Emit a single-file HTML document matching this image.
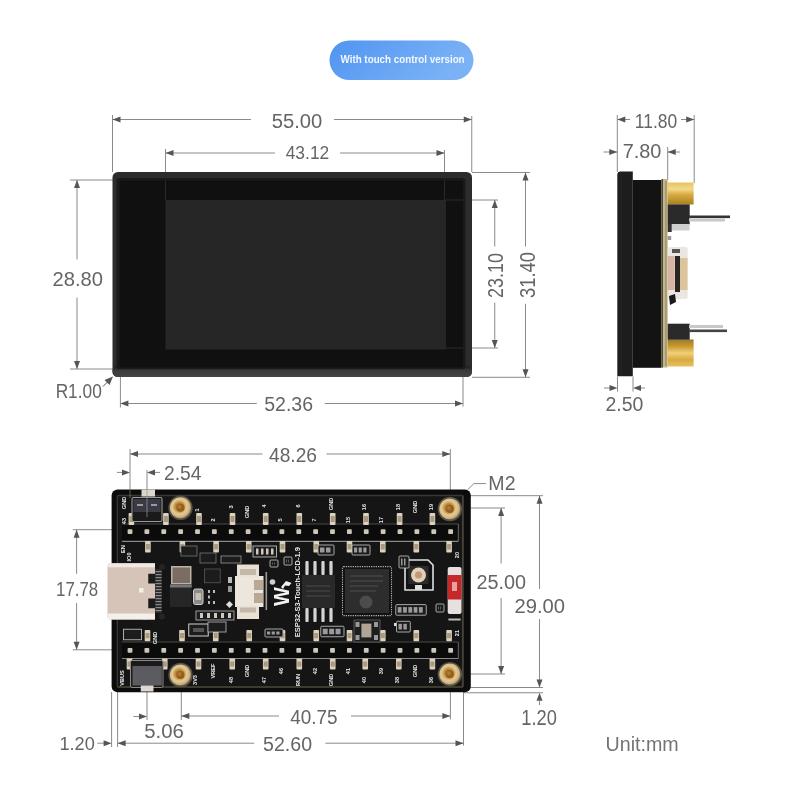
<!DOCTYPE html>
<html><head><meta charset="utf-8"><style>
html,body{margin:0;padding:0;background:#fff;}
svg{display:block;filter:blur(0.4px);}
text{font-family:"Liberation Sans",sans-serif;}
</style></head><body>
<svg width="800" height="800" viewBox="0 0 800 800" font-family="Liberation Sans, sans-serif">
<defs><linearGradient id="pill" x1="0" y1="0" x2="1" y2="0.3"><stop offset="0" stop-color="#5094f1"/><stop offset="1" stop-color="#7bb2f6"/></linearGradient><linearGradient id="gold" x1="0" y1="0" x2="0" y2="1"><stop offset="0" stop-color="#e8c060"/><stop offset="0.3" stop-color="#f4da88"/><stop offset="0.55" stop-color="#d8aa40"/><stop offset="1" stop-color="#a88020"/></linearGradient><radialGradient id="hole" cx="0.45" cy="0.45" r="0.58"><stop offset="0" stop-color="#7a4a14"/><stop offset="0.32" stop-color="#b8843c"/><stop offset="0.6" stop-color="#e6cc94"/><stop offset="0.85" stop-color="#cdb07a"/><stop offset="1" stop-color="#7a6c50"/></radialGradient><linearGradient id="fbot" x1="0" y1="0" x2="0" y2="1"><stop offset="0" stop-color="#1c1c1c"/><stop offset="0.45" stop-color="#3c3c3c"/><stop offset="1" stop-color="#444444"/></linearGradient><linearGradient id="gold2" x1="0" y1="0" x2="0" y2="1"><stop offset="0" stop-color="#9a7a28"/><stop offset="0.25" stop-color="#c89a30"/><stop offset="0.5" stop-color="#f0d078"/><stop offset="0.75" stop-color="#d8aa40"/><stop offset="1" stop-color="#e8c060"/></linearGradient></defs>
<rect width="800" height="800" fill="#ffffff"/>
<rect x="329.5" y="40.5" width="144" height="39.5" rx="19.75" fill="url(#pill)"/>
<text x="0" y="0" font-size="12" font-weight="bold" fill="#f4f8ff" transform="translate(340.50,63.20) scale(0.8179,0.9667)">With touch control version</text>
<line x1="112.5" y1="115" x2="112.5" y2="172" stroke="#8a8a8a" stroke-width="1"/>
<line x1="471.75" y1="116" x2="471.75" y2="172" stroke="#8a8a8a" stroke-width="1"/>
<line x1="165.5" y1="149" x2="165.5" y2="200" stroke="#8a8a8a" stroke-width="1"/>
<line x1="444.5" y1="150" x2="444.5" y2="200" stroke="#8a8a8a" stroke-width="1"/>
<line x1="112.5" y1="119.5" x2="251" y2="119.5" stroke="#8a8a8a" stroke-width="1"/>
<line x1="334" y1="119.5" x2="471.75" y2="119.5" stroke="#8a8a8a" stroke-width="1"/>
<polygon points="112.50,119.50 120.50,116.50 120.50,122.50" fill="#555555"/>
<polygon points="471.75,119.50 463.75,116.50 463.75,122.50" fill="#555555"/>
<text x="0" y="0" font-size="20" fill="#656565" transform="translate(271.69,127.70) scale(1.0102,1.0357)">55.00</text>
<line x1="165.5" y1="153" x2="275" y2="153" stroke="#8a8a8a" stroke-width="1"/>
<line x1="340" y1="153" x2="444.5" y2="153" stroke="#8a8a8a" stroke-width="1"/>
<polygon points="165.50,153.00 173.50,150.00 173.50,156.00" fill="#555555"/>
<polygon points="444.50,153.00 436.50,150.00 436.50,156.00" fill="#555555"/>
<text x="0" y="0" font-size="20" fill="#656565" transform="translate(285.70,158.50) scale(0.8700,0.9643)">43.12</text>
<line x1="70" y1="180" x2="113" y2="180" stroke="#8a8a8a" stroke-width="1"/>
<line x1="70" y1="369" x2="113" y2="369" stroke="#8a8a8a" stroke-width="1"/>
<line x1="77" y1="180" x2="77" y2="259.4" stroke="#8a8a8a" stroke-width="1"/>
<line x1="77" y1="297.5" x2="77" y2="369" stroke="#8a8a8a" stroke-width="1"/>
<polygon points="77.00,180.00 74.00,188.00 80.00,188.00" fill="#555555"/>
<polygon points="77.00,369.00 74.00,361.00 80.00,361.00" fill="#555555"/>
<text x="0" y="0" font-size="20" fill="#656565" transform="translate(52.49,285.50) scale(1.0102,1.0071)">28.80</text>
<rect x="112.5" y="172" width="359.5" height="205" rx="5.5" fill="#2c2c2c"/>
<rect x="112.5" y="366" width="359.5" height="11" rx="5" fill="url(#fbot)"/>
<rect x="116.5" y="178" width="349" height="191" rx="3" fill="#1a1a1a"/>
<rect x="119.5" y="180.5" width="343.5" height="187" rx="2" fill="#101010"/>
<rect x="165.5" y="200" width="280.5" height="149.5" fill="#262626"/>
<line x1="165.5" y1="180.5" x2="165.5" y2="200" stroke="#2a2a2a" stroke-width="1"/>
<line x1="444.5" y1="180.5" x2="444.5" y2="200" stroke="#2a2a2a" stroke-width="1"/>
<line x1="446" y1="200" x2="463" y2="200" stroke="#2a2a2a" stroke-width="1"/>
<line x1="446" y1="348" x2="463" y2="348" stroke="#2a2a2a" stroke-width="1"/>
<text x="0" y="0" font-size="20" fill="#656565" transform="translate(55.63,398.00) scale(0.8654,0.9643)">R1.00</text>
<line x1="103" y1="386.5" x2="110" y2="379.5" stroke="#555555" stroke-width="1"/>
<polygon points="113,376.5 104.5,380 109.5,385" fill="#555555"/>
<line x1="120.4" y1="377" x2="120.4" y2="407.5" stroke="#8a8a8a" stroke-width="1"/>
<line x1="463" y1="377" x2="463" y2="406.5" stroke="#8a8a8a" stroke-width="1"/>
<line x1="120.4" y1="403.5" x2="256.8" y2="403.5" stroke="#8a8a8a" stroke-width="1"/>
<line x1="324.7" y1="403.5" x2="463" y2="403.5" stroke="#8a8a8a" stroke-width="1"/>
<polygon points="120.40,403.50 128.40,400.50 128.40,406.50" fill="#555555"/>
<polygon points="463.00,403.50 455.00,400.50 455.00,406.50" fill="#555555"/>
<text x="0" y="0" font-size="20" fill="#656565" transform="translate(264.22,411.00) scale(0.9755,1.0143)">52.36</text>
<line x1="472" y1="200" x2="498" y2="200" stroke="#8a8a8a" stroke-width="1"/>
<line x1="472" y1="348" x2="498" y2="348" stroke="#8a8a8a" stroke-width="1"/>
<line x1="494.75" y1="200" x2="494.75" y2="246.4" stroke="#8a8a8a" stroke-width="1"/>
<line x1="494.75" y1="302.6" x2="494.75" y2="348" stroke="#8a8a8a" stroke-width="1"/>
<polygon points="494.75,200.00 491.75,208.00 497.75,208.00" fill="#555555"/>
<polygon points="494.75,348.00 491.75,340.00 497.75,340.00" fill="#555555"/>
<text x="0" y="0" font-size="20" fill="#656565" transform="translate(503.30,297.90) rotate(-90) scale(0.8980,1.0929)">23.10</text>
<line x1="472" y1="172.5" x2="530" y2="172.5" stroke="#8a8a8a" stroke-width="1"/>
<line x1="472" y1="377.3" x2="530" y2="377.3" stroke="#8a8a8a" stroke-width="1"/>
<line x1="525.5" y1="172.5" x2="525.5" y2="246.4" stroke="#8a8a8a" stroke-width="1"/>
<line x1="525.5" y1="303.8" x2="525.5" y2="377.3" stroke="#8a8a8a" stroke-width="1"/>
<polygon points="525.50,172.50 522.50,180.50 528.50,180.50" fill="#555555"/>
<polygon points="525.50,377.30 522.50,369.30 528.50,369.30" fill="#555555"/>
<text x="0" y="0" font-size="20" fill="#656565" transform="translate(535.30,297.92) rotate(-90) scale(0.9184,1.1286)">31.40</text>
<line x1="617.3" y1="115" x2="617.3" y2="172" stroke="#8a8a8a" stroke-width="1"/>
<line x1="694.2" y1="115" x2="694.2" y2="183" stroke="#8a8a8a" stroke-width="1"/>
<line x1="667.7" y1="147" x2="667.7" y2="180" stroke="#8a8a8a" stroke-width="1"/>
<line x1="617.3" y1="119.5" x2="630" y2="119.5" stroke="#8a8a8a" stroke-width="1"/>
<line x1="681" y1="119.5" x2="694.2" y2="119.5" stroke="#8a8a8a" stroke-width="1"/>
<polygon points="617.30,119.50 625.30,116.50 625.30,122.50" fill="#555555"/>
<polygon points="694.20,119.50 686.20,116.50 686.20,122.50" fill="#555555"/>
<text x="0" y="0" font-size="20" fill="#656565" transform="translate(634.83,127.70) scale(0.8723,1.0143)">11.80</text>
<line x1="603.5" y1="152" x2="617.3" y2="152" stroke="#8a8a8a" stroke-width="1"/>
<line x1="667.7" y1="152" x2="680" y2="152" stroke="#8a8a8a" stroke-width="1"/>
<polygon points="617.30,152.00 609.30,149.00 609.30,155.00" fill="#555555"/>
<polygon points="667.70,152.00 675.70,149.00 675.70,155.00" fill="#555555"/>
<text x="0" y="0" font-size="20" fill="#656565" transform="translate(622.71,157.70) scale(0.9946,0.9643)">7.80</text>
<path d="M617.3,175 Q617.3,171.6 620.5,171.6 L632.8,171.6 L632.8,376.2 L617.3,376.2 Z" fill="#1d1d1d"/>
<rect x="620.5" y="173" width="1.2" height="202" fill="#262626"/>
<rect x="632.8" y="180" width="28.8" height="187.8" fill="#131313"/>
<rect x="661.6" y="179" width="6.1" height="188.5" fill="#c2b68e"/>
<rect x="661.6" y="179" width="1.2" height="188.5" fill="#3a3424"/>
<rect x="665.2" y="181" width="1.5" height="185" fill="#8a7c58" opacity="0.6"/>
<rect x="667.7" y="182.5" width="25.9" height="22" fill="url(#gold)"/>
<rect x="667.7" y="339.5" width="25.9" height="27" fill="url(#gold2)"/>
<rect x="667.7" y="204.4" width="22" height="20" fill="#2a2a2a"/>
<rect x="667.7" y="323.7" width="22" height="16" fill="#2a2a2a"/>
<rect x="689" y="215.5" width="41" height="2.6" fill="#333"/>
<rect x="689" y="218.5" width="36" height="3" fill="#c8c8c8"/>
<rect x="689" y="329.5" width="38" height="2.6" fill="#444"/>
<rect x="689" y="325" width="34" height="3" fill="#c8c8c8"/>
<rect x="671.5" y="224" width="18" height="6.5" fill="#cfcfcf"/>
<rect x="667.7" y="224" width="4" height="8" fill="#333"/>
<rect x="667.7" y="236" width="3.5" height="4" fill="#999"/>
<rect x="667.7" y="247" width="20" height="52" rx="2" fill="#ece6e0"/>
<rect x="667.7" y="256" width="7" height="34" fill="#d8b4a4"/>
<rect x="675" y="256" width="5" height="36" fill="#2a2520"/>
<rect x="680" y="258" width="7.5" height="32" fill="#dcc49a"/>
<rect x="672" y="249" width="8" height="4" fill="#555"/>
<path d="M669,296 L675,294 L676,302 L670,305 Z" fill="#1a1a1a"/>
<line x1="617.5" y1="376.5" x2="617.5" y2="391.5" stroke="#8a8a8a" stroke-width="1"/>
<line x1="633" y1="376.5" x2="633" y2="391.5" stroke="#8a8a8a" stroke-width="1"/>
<line x1="604" y1="388" x2="611" y2="388" stroke="#8a8a8a" stroke-width="1"/>
<line x1="640" y1="388" x2="645" y2="388" stroke="#8a8a8a" stroke-width="1"/>
<polygon points="617.50,388.00 609.50,385.00 609.50,391.00" fill="#555555"/>
<polygon points="633.00,388.00 641.00,385.00 641.00,391.00" fill="#555555"/>
<text x="0" y="0" font-size="20" fill="#656565" transform="translate(605.53,411.00) scale(0.9730,1.0357)">2.50</text>
<line x1="130" y1="449" x2="130" y2="490" stroke="#8a8a8a" stroke-width="1"/>
<line x1="450.3" y1="449" x2="450.3" y2="490" stroke="#8a8a8a" stroke-width="1"/>
<line x1="130" y1="454" x2="262.5" y2="454" stroke="#8a8a8a" stroke-width="1"/>
<line x1="326.5" y1="454" x2="450.3" y2="454" stroke="#8a8a8a" stroke-width="1"/>
<polygon points="130.00,454.00 138.00,451.00 138.00,457.00" fill="#555555"/>
<polygon points="450.30,454.00 442.30,451.00 442.30,457.00" fill="#555555"/>
<text x="0" y="0" font-size="20" fill="#656565" transform="translate(269.00,461.50) scale(0.9600,1.0357)">48.26</text>
<line x1="147" y1="470" x2="147" y2="497" stroke="#8a8a8a" stroke-width="1"/>
<line x1="117" y1="472.4" x2="123" y2="472.4" stroke="#8a8a8a" stroke-width="1"/>
<polygon points="130.00,472.40 122.00,469.40 122.00,475.40" fill="#555555"/>
<line x1="152" y1="472.4" x2="160" y2="472.4" stroke="#8a8a8a" stroke-width="1"/>
<polygon points="147.00,472.40 155.00,469.40 155.00,475.40" fill="#555555"/>
<text x="0" y="0" font-size="20" fill="#656565" transform="translate(164.04,480.00) scale(0.9632,1.0000)">2.54</text>
<polyline points="467.4,490 473.9,483.6 486,483.6" fill="none" stroke="#8a8a8a" stroke-width="1"/>
<text x="0" y="0" font-size="20" fill="#656565" transform="translate(488.32,490.00) scale(0.9808,0.9857)">M2</text>
<line x1="470" y1="495.7" x2="543" y2="495.7" stroke="#8a8a8a" stroke-width="1"/>
<line x1="470" y1="687.5" x2="543" y2="687.5" stroke="#8a8a8a" stroke-width="1"/>
<line x1="539.5" y1="495.7" x2="539.5" y2="589" stroke="#8a8a8a" stroke-width="1"/>
<line x1="539.5" y1="619" x2="539.5" y2="687.5" stroke="#8a8a8a" stroke-width="1"/>
<polygon points="539.50,495.70 536.50,503.70 542.50,503.70" fill="#555555"/>
<polygon points="539.50,687.50 536.50,679.50 542.50,679.50" fill="#555555"/>
<text x="0" y="0" font-size="20" fill="#656565" transform="translate(514.49,613.00) scale(1.0102,0.9643)">29.00</text>
<line x1="462" y1="508" x2="505" y2="508" stroke="#8a8a8a" stroke-width="1"/>
<line x1="462" y1="674" x2="505" y2="674" stroke="#8a8a8a" stroke-width="1"/>
<line x1="501.1" y1="508" x2="501.1" y2="563.5" stroke="#8a8a8a" stroke-width="1"/>
<line x1="501.1" y1="598" x2="501.1" y2="674" stroke="#8a8a8a" stroke-width="1"/>
<polygon points="501.10,508.00 498.10,516.00 504.10,516.00" fill="#555555"/>
<polygon points="501.10,674.00 498.10,666.00 504.10,666.00" fill="#555555"/>
<text x="0" y="0" font-size="20" fill="#656565" transform="translate(476.41,589.00) scale(0.9918,0.9643)">25.00</text>
<line x1="464" y1="692.75" x2="543" y2="692.75" stroke="#8a8a8a" stroke-width="1"/>
<polygon points="539.50,692.75 536.50,700.75 542.50,700.75" fill="#555555"/>
<line x1="539.5" y1="700" x2="539.5" y2="705" stroke="#8a8a8a" stroke-width="1"/>
<text x="0" y="0" font-size="20" fill="#656565" transform="translate(521.29,725.00) scale(0.9135,1.0714)">1.20</text>
<line x1="72.8" y1="529.7" x2="112" y2="529.7" stroke="#8a8a8a" stroke-width="1"/>
<line x1="72.8" y1="649.8" x2="112" y2="649.8" stroke="#8a8a8a" stroke-width="1"/>
<line x1="76.6" y1="529.7" x2="76.6" y2="573.8" stroke="#8a8a8a" stroke-width="1"/>
<line x1="76.6" y1="602.9" x2="76.6" y2="649.8" stroke="#8a8a8a" stroke-width="1"/>
<polygon points="76.60,529.70 73.60,537.70 79.60,537.70" fill="#555555"/>
<polygon points="76.60,649.80 73.60,641.80 79.60,641.80" fill="#555555"/>
<text x="0" y="0" font-size="20" fill="#656565" transform="translate(56.06,596.30) scale(0.8429,1.0071)">17.78</text>
<line x1="147" y1="692" x2="147" y2="720" stroke="#8a8a8a" stroke-width="1"/>
<line x1="181.3" y1="686" x2="181.3" y2="720" stroke="#8a8a8a" stroke-width="1"/>
<line x1="450.4" y1="692" x2="450.4" y2="719.4" stroke="#8a8a8a" stroke-width="1"/>
<line x1="133.4" y1="716.5" x2="140" y2="716.5" stroke="#8a8a8a" stroke-width="1"/>
<polygon points="147.00,716.50 139.00,713.50 139.00,719.50" fill="#555555"/>
<text x="0" y="0" font-size="20" fill="#656565" transform="translate(144.28,738.00) scale(1.0162,1.0000)">5.06</text>
<line x1="181.3" y1="716" x2="279" y2="716" stroke="#8a8a8a" stroke-width="1"/>
<line x1="351" y1="716" x2="450.4" y2="716" stroke="#8a8a8a" stroke-width="1"/>
<polygon points="181.30,716.00 189.30,713.00 189.30,719.00" fill="#555555"/>
<polygon points="450.40,716.00 442.40,713.00 442.40,719.00" fill="#555555"/>
<text x="0" y="0" font-size="20" fill="#656565" transform="translate(290.20,724.00) scale(0.9460,1.0179)">40.75</text>
<line x1="111.6" y1="692" x2="111.6" y2="747" stroke="#8a8a8a" stroke-width="1"/>
<line x1="117.6" y1="692" x2="117.6" y2="747" stroke="#8a8a8a" stroke-width="1"/>
<line x1="463.5" y1="692" x2="463.5" y2="745.6" stroke="#8a8a8a" stroke-width="1"/>
<line x1="97.4" y1="743.2" x2="104" y2="743.2" stroke="#8a8a8a" stroke-width="1"/>
<polygon points="111.60,743.20 103.60,740.20 103.60,746.20" fill="#555555"/>
<line x1="117.6" y1="743.2" x2="254.25" y2="743.2" stroke="#8a8a8a" stroke-width="1"/>
<line x1="325.5" y1="743.2" x2="463.5" y2="743.2" stroke="#8a8a8a" stroke-width="1"/>
<polygon points="117.60,743.20 125.60,740.20 125.60,746.20" fill="#555555"/>
<polygon points="463.50,743.20 455.50,740.20 455.50,746.20" fill="#555555"/>
<text x="0" y="0" font-size="20" fill="#656565" transform="translate(263.02,751.00) scale(0.9796,1.0179)">52.60</text>
<text x="0" y="0" font-size="20" fill="#656565" transform="translate(59.39,750.30) scale(0.9108,0.9643)">1.20</text>
<text x="0" y="0" font-size="20" fill="#747474" transform="translate(605.52,751.00) scale(0.9833,1.0133)">Unit:mm</text>
<rect x="111.6" y="489.6" width="359.2" height="202.6" rx="6" fill="#0c0c0c"/>
<rect x="117.3" y="495.5" width="345.5" height="191.5" rx="1.5" fill="#151515" stroke="#3a3832" stroke-width="1.3"/>
<line x1="117.3" y1="687" x2="462.8" y2="687" stroke="#45402f" stroke-width="1.4"/>
<line x1="462.8" y1="495.5" x2="462.8" y2="687" stroke="#45423a" stroke-width="1.8"/>
<rect x="122" y="524" width="336.3" height="17.299999999999955" fill="#0b0b0b"/>
<line x1="122" y1="524" x2="458.3" y2="524" stroke="#4a4a4a" stroke-width="1"/>
<line x1="122" y1="541.3" x2="458.3" y2="541.3" stroke="#8a8a8a" stroke-width="1.2"/>
<line x1="458.3" y1="524" x2="458.3" y2="541.3" stroke="#6a6a6a" stroke-width="1"/>
<rect x="127.60" y="529.2" width="4.8" height="4.8" rx="0.8" fill="#cdc6ba"/>
<rect x="144.47" y="529.2" width="4.8" height="4.8" rx="0.8" fill="#cdc6ba"/>
<rect x="161.35" y="529.2" width="4.8" height="4.8" rx="0.8" fill="#cdc6ba"/>
<rect x="178.22" y="529.2" width="4.8" height="4.8" rx="0.8" fill="#cdc6ba"/>
<rect x="195.10" y="529.2" width="4.8" height="4.8" rx="0.8" fill="#cdc6ba"/>
<rect x="211.97" y="529.2" width="4.8" height="4.8" rx="0.8" fill="#cdc6ba"/>
<rect x="228.85" y="529.2" width="4.8" height="4.8" rx="0.8" fill="#cdc6ba"/>
<rect x="245.72" y="529.2" width="4.8" height="4.8" rx="0.8" fill="#cdc6ba"/>
<rect x="262.60" y="529.2" width="4.8" height="4.8" rx="0.8" fill="#cdc6ba"/>
<rect x="279.48" y="529.2" width="4.8" height="4.8" rx="0.8" fill="#cdc6ba"/>
<rect x="296.35" y="529.2" width="4.8" height="4.8" rx="0.8" fill="#cdc6ba"/>
<rect x="313.23" y="529.2" width="4.8" height="4.8" rx="0.8" fill="#cdc6ba"/>
<rect x="330.10" y="529.2" width="4.8" height="4.8" rx="0.8" fill="#cdc6ba"/>
<rect x="346.98" y="529.2" width="4.8" height="4.8" rx="0.8" fill="#cdc6ba"/>
<rect x="363.85" y="529.2" width="4.8" height="4.8" rx="0.8" fill="#cdc6ba"/>
<rect x="380.73" y="529.2" width="4.8" height="4.8" rx="0.8" fill="#cdc6ba"/>
<rect x="397.60" y="529.2" width="4.8" height="4.8" rx="0.8" fill="#cdc6ba"/>
<rect x="414.48" y="529.2" width="4.8" height="4.8" rx="0.8" fill="#cdc6ba"/>
<rect x="431.35" y="529.2" width="4.8" height="4.8" rx="0.8" fill="#cdc6ba"/>
<rect x="448.23" y="529.2" width="4.8" height="4.8" rx="0.8" fill="#cdc6ba"/>
<rect x="122" y="642" width="336.3" height="16.5" fill="#0b0b0b"/>
<line x1="122" y1="642" x2="458.3" y2="642" stroke="#4a4a4a" stroke-width="1"/>
<line x1="122" y1="658.5" x2="458.3" y2="658.5" stroke="#8a8a8a" stroke-width="1.2"/>
<line x1="458.3" y1="642" x2="458.3" y2="658.5" stroke="#6a6a6a" stroke-width="1"/>
<rect x="127.60" y="647.9" width="4.8" height="4.8" rx="0.8" fill="#cdc6ba"/>
<rect x="144.47" y="647.9" width="4.8" height="4.8" rx="0.8" fill="#cdc6ba"/>
<rect x="161.35" y="647.9" width="4.8" height="4.8" rx="0.8" fill="#cdc6ba"/>
<rect x="178.22" y="647.9" width="4.8" height="4.8" rx="0.8" fill="#cdc6ba"/>
<rect x="195.10" y="647.9" width="4.8" height="4.8" rx="0.8" fill="#cdc6ba"/>
<rect x="211.97" y="647.9" width="4.8" height="4.8" rx="0.8" fill="#cdc6ba"/>
<rect x="228.85" y="647.9" width="4.8" height="4.8" rx="0.8" fill="#cdc6ba"/>
<rect x="245.72" y="647.9" width="4.8" height="4.8" rx="0.8" fill="#cdc6ba"/>
<rect x="262.60" y="647.9" width="4.8" height="4.8" rx="0.8" fill="#cdc6ba"/>
<rect x="279.48" y="647.9" width="4.8" height="4.8" rx="0.8" fill="#cdc6ba"/>
<rect x="296.35" y="647.9" width="4.8" height="4.8" rx="0.8" fill="#cdc6ba"/>
<rect x="313.23" y="647.9" width="4.8" height="4.8" rx="0.8" fill="#cdc6ba"/>
<rect x="330.10" y="647.9" width="4.8" height="4.8" rx="0.8" fill="#cdc6ba"/>
<rect x="346.98" y="647.9" width="4.8" height="4.8" rx="0.8" fill="#cdc6ba"/>
<rect x="363.85" y="647.9" width="4.8" height="4.8" rx="0.8" fill="#cdc6ba"/>
<rect x="380.73" y="647.9" width="4.8" height="4.8" rx="0.8" fill="#cdc6ba"/>
<rect x="397.60" y="647.9" width="4.8" height="4.8" rx="0.8" fill="#cdc6ba"/>
<rect x="414.48" y="647.9" width="4.8" height="4.8" rx="0.8" fill="#cdc6ba"/>
<rect x="431.35" y="647.9" width="4.8" height="4.8" rx="0.8" fill="#cdc6ba"/>
<rect x="448.23" y="647.9" width="4.8" height="4.8" rx="0.8" fill="#cdc6ba"/>
<rect x="128.60" y="513" width="5.6" height="12.00" rx="0.8" fill="#ddd2be"/>
<rect x="129.40" y="516" width="4.00" height="6.00" fill="#a89a80"/>
<rect x="163.10" y="513" width="5.6" height="12.00" rx="0.8" fill="#ddd2be"/>
<rect x="163.90" y="516" width="4.00" height="6.00" fill="#a89a80"/>
<rect x="196.20" y="513" width="5.6" height="12.00" rx="0.8" fill="#ddd2be"/>
<rect x="197.00" y="516" width="4.00" height="6.00" fill="#a89a80"/>
<rect x="229.70" y="513" width="5.6" height="12.00" rx="0.8" fill="#ddd2be"/>
<rect x="230.50" y="516" width="4.00" height="6.00" fill="#a89a80"/>
<rect x="262.90" y="513" width="5.6" height="12.00" rx="0.8" fill="#ddd2be"/>
<rect x="263.70" y="516" width="4.00" height="6.00" fill="#a89a80"/>
<rect x="296.50" y="513" width="5.6" height="12.00" rx="0.8" fill="#ddd2be"/>
<rect x="297.30" y="516" width="4.00" height="6.00" fill="#a89a80"/>
<rect x="329.90" y="513" width="5.6" height="12.00" rx="0.8" fill="#ddd2be"/>
<rect x="330.70" y="516" width="4.00" height="6.00" fill="#a89a80"/>
<rect x="363.20" y="513" width="5.6" height="12.00" rx="0.8" fill="#ddd2be"/>
<rect x="364.00" y="516" width="4.00" height="6.00" fill="#a89a80"/>
<rect x="396.80" y="513" width="5.6" height="12.00" rx="0.8" fill="#ddd2be"/>
<rect x="397.60" y="516" width="4.00" height="6.00" fill="#a89a80"/>
<rect x="429.60" y="513" width="5.6" height="12.00" rx="0.8" fill="#ddd2be"/>
<rect x="430.40" y="516" width="4.00" height="6.00" fill="#a89a80"/>
<rect x="145.10" y="541" width="5.6" height="11.50" rx="0.8" fill="#ddd2be"/>
<rect x="145.90" y="544" width="4.00" height="5.50" fill="#a89a80"/>
<rect x="179.60" y="541" width="5.6" height="11.50" rx="0.8" fill="#ddd2be"/>
<rect x="180.40" y="544" width="4.00" height="5.50" fill="#a89a80"/>
<rect x="213.30" y="541" width="5.6" height="11.50" rx="0.8" fill="#ddd2be"/>
<rect x="214.10" y="544" width="4.00" height="5.50" fill="#a89a80"/>
<rect x="245.95" y="541" width="5.6" height="11.50" rx="0.8" fill="#ddd2be"/>
<rect x="246.75" y="544" width="4.00" height="5.50" fill="#a89a80"/>
<rect x="279.70" y="541" width="5.6" height="11.50" rx="0.8" fill="#ddd2be"/>
<rect x="280.50" y="544" width="4.00" height="5.50" fill="#a89a80"/>
<rect x="313.45" y="541" width="5.6" height="11.50" rx="0.8" fill="#ddd2be"/>
<rect x="314.25" y="544" width="4.00" height="5.50" fill="#a89a80"/>
<rect x="346.70" y="541" width="5.6" height="11.50" rx="0.8" fill="#ddd2be"/>
<rect x="347.50" y="544" width="4.00" height="5.50" fill="#a89a80"/>
<rect x="380.00" y="541" width="5.6" height="11.50" rx="0.8" fill="#ddd2be"/>
<rect x="380.80" y="544" width="4.00" height="5.50" fill="#a89a80"/>
<rect x="413.50" y="541" width="5.6" height="11.50" rx="0.8" fill="#ddd2be"/>
<rect x="414.30" y="544" width="4.00" height="5.50" fill="#a89a80"/>
<rect x="446.30" y="541" width="5.6" height="11.50" rx="0.8" fill="#ddd2be"/>
<rect x="447.10" y="544" width="4.00" height="5.50" fill="#a89a80"/>
<rect x="144.70" y="630" width="5.6" height="11.20" rx="0.8" fill="#ddd2be"/>
<rect x="145.50" y="633" width="4.00" height="5.20" fill="#a89a80"/>
<rect x="179.20" y="630" width="5.6" height="11.20" rx="0.8" fill="#ddd2be"/>
<rect x="180.00" y="633" width="4.00" height="5.20" fill="#a89a80"/>
<rect x="212.95" y="630" width="5.6" height="11.20" rx="0.8" fill="#ddd2be"/>
<rect x="213.75" y="633" width="4.00" height="5.20" fill="#a89a80"/>
<rect x="246.40" y="630" width="5.6" height="11.20" rx="0.8" fill="#ddd2be"/>
<rect x="247.20" y="633" width="4.00" height="5.20" fill="#a89a80"/>
<rect x="279.70" y="630" width="5.6" height="11.20" rx="0.8" fill="#ddd2be"/>
<rect x="280.50" y="633" width="4.00" height="5.20" fill="#a89a80"/>
<rect x="313.45" y="630" width="5.6" height="11.20" rx="0.8" fill="#ddd2be"/>
<rect x="314.25" y="633" width="4.00" height="5.20" fill="#a89a80"/>
<rect x="346.70" y="630" width="5.6" height="11.20" rx="0.8" fill="#ddd2be"/>
<rect x="347.50" y="633" width="4.00" height="5.20" fill="#a89a80"/>
<rect x="380.00" y="630" width="5.6" height="11.20" rx="0.8" fill="#ddd2be"/>
<rect x="380.80" y="633" width="4.00" height="5.20" fill="#a89a80"/>
<rect x="413.50" y="630" width="5.6" height="11.20" rx="0.8" fill="#ddd2be"/>
<rect x="414.30" y="633" width="4.00" height="5.20" fill="#a89a80"/>
<rect x="446.30" y="630" width="5.6" height="11.20" rx="0.8" fill="#ddd2be"/>
<rect x="447.10" y="633" width="4.00" height="5.20" fill="#a89a80"/>
<rect x="126.70" y="658.5" width="5.6" height="11.10" rx="0.8" fill="#ddd2be"/>
<rect x="127.50" y="661.5" width="4.00" height="5.10" fill="#a89a80"/>
<rect x="161.95" y="658.5" width="5.6" height="11.10" rx="0.8" fill="#ddd2be"/>
<rect x="162.75" y="661.5" width="4.00" height="5.10" fill="#a89a80"/>
<rect x="195.70" y="658.5" width="5.6" height="11.10" rx="0.8" fill="#ddd2be"/>
<rect x="196.50" y="661.5" width="4.00" height="5.10" fill="#a89a80"/>
<rect x="229.45" y="658.5" width="5.6" height="11.10" rx="0.8" fill="#ddd2be"/>
<rect x="230.25" y="661.5" width="4.00" height="5.10" fill="#a89a80"/>
<rect x="262.90" y="658.5" width="5.6" height="11.10" rx="0.8" fill="#ddd2be"/>
<rect x="263.70" y="661.5" width="4.00" height="5.10" fill="#a89a80"/>
<rect x="296.50" y="658.5" width="5.6" height="11.10" rx="0.8" fill="#ddd2be"/>
<rect x="297.30" y="661.5" width="4.00" height="5.10" fill="#a89a80"/>
<rect x="329.95" y="658.5" width="5.6" height="11.10" rx="0.8" fill="#ddd2be"/>
<rect x="330.75" y="661.5" width="4.00" height="5.10" fill="#a89a80"/>
<rect x="362.45" y="658.5" width="5.6" height="11.10" rx="0.8" fill="#ddd2be"/>
<rect x="363.25" y="661.5" width="4.00" height="5.10" fill="#a89a80"/>
<rect x="396.00" y="658.5" width="5.6" height="11.10" rx="0.8" fill="#ddd2be"/>
<rect x="396.80" y="661.5" width="4.00" height="5.10" fill="#a89a80"/>
<rect x="429.60" y="658.5" width="5.6" height="11.10" rx="0.8" fill="#ddd2be"/>
<rect x="430.40" y="661.5" width="4.00" height="5.10" fill="#a89a80"/>
<text x="126" y="503" font-size="5.6" font-weight="bold" fill="#e8e8e8" transform="rotate(-90 126 503)" text-anchor="middle">GND</text>
<text x="125.5" y="521" font-size="5.6" font-weight="bold" fill="#e8e8e8" transform="rotate(-90 125.5 521)" text-anchor="middle">43</text>
<text x="148.5" y="508" font-size="5.6" font-weight="bold" fill="#e8e8e8" transform="rotate(-90 148.5 508)" text-anchor="middle">44</text>
<text x="199" y="510" font-size="5.6" font-weight="bold" fill="#e8e8e8" transform="rotate(-90 199 510)" text-anchor="middle">1</text>
<text x="215" y="520" font-size="5.6" font-weight="bold" fill="#e8e8e8" transform="rotate(-90 215 520)" text-anchor="middle">2</text>
<text x="248.5" y="512" font-size="5.6" font-weight="bold" fill="#e8e8e8" transform="rotate(-90 248.5 512)" text-anchor="middle">GND</text>
<text x="233" y="507" font-size="5.6" font-weight="bold" fill="#e8e8e8" transform="rotate(-90 233 507)" text-anchor="middle">3</text>
<text x="266" y="506" font-size="5.6" font-weight="bold" fill="#e8e8e8" transform="rotate(-90 266 506)" text-anchor="middle">4</text>
<text x="282" y="520" font-size="5.6" font-weight="bold" fill="#e8e8e8" transform="rotate(-90 282 520)" text-anchor="middle">5</text>
<text x="299.5" y="506" font-size="5.6" font-weight="bold" fill="#e8e8e8" transform="rotate(-90 299.5 506)" text-anchor="middle">6</text>
<text x="316" y="520" font-size="5.6" font-weight="bold" fill="#e8e8e8" transform="rotate(-90 316 520)" text-anchor="middle">7</text>
<text x="333" y="504" font-size="5.6" font-weight="bold" fill="#e8e8e8" transform="rotate(-90 333 504)" text-anchor="middle">GND</text>
<text x="349.5" y="520" font-size="5.6" font-weight="bold" fill="#e8e8e8" transform="rotate(-90 349.5 520)" text-anchor="middle">15</text>
<text x="366" y="507" font-size="5.6" font-weight="bold" fill="#e8e8e8" transform="rotate(-90 366 507)" text-anchor="middle">16</text>
<text x="383" y="520" font-size="5.6" font-weight="bold" fill="#e8e8e8" transform="rotate(-90 383 520)" text-anchor="middle">17</text>
<text x="400" y="507" font-size="5.6" font-weight="bold" fill="#e8e8e8" transform="rotate(-90 400 507)" text-anchor="middle">18</text>
<text x="416.5" y="507" font-size="5.6" font-weight="bold" fill="#e8e8e8" transform="rotate(-90 416.5 507)" text-anchor="middle">GND</text>
<text x="433" y="507" font-size="5.6" font-weight="bold" fill="#e8e8e8" transform="rotate(-90 433 507)" text-anchor="middle">19</text>
<text x="459" y="555" font-size="5.6" font-weight="bold" fill="#e8e8e8" transform="rotate(-90 459 555)" text-anchor="middle">20</text>
<text x="124.5" y="549" font-size="5.6" font-weight="bold" fill="#e8e8e8" transform="rotate(-90 124.5 549)" text-anchor="middle">EN</text>
<text x="131" y="557" font-size="5.6" font-weight="bold" fill="#e8e8e8" transform="rotate(-90 131 557)" text-anchor="middle">IO0</text>
<text x="197" y="680" font-size="5.6" font-weight="bold" fill="#e8e8e8" transform="rotate(-90 197 680)" text-anchor="middle">3V3</text>
<text x="215" y="671" font-size="5.6" font-weight="bold" fill="#e8e8e8" transform="rotate(-90 215 671)" text-anchor="middle">VREF</text>
<text x="232.5" y="680" font-size="5.6" font-weight="bold" fill="#e8e8e8" transform="rotate(-90 232.5 680)" text-anchor="middle">48</text>
<text x="248.5" y="671" font-size="5.6" font-weight="bold" fill="#e8e8e8" transform="rotate(-90 248.5 671)" text-anchor="middle">GND</text>
<text x="265.5" y="680" font-size="5.6" font-weight="bold" fill="#e8e8e8" transform="rotate(-90 265.5 680)" text-anchor="middle">47</text>
<text x="282.5" y="671" font-size="5.6" font-weight="bold" fill="#e8e8e8" transform="rotate(-90 282.5 671)" text-anchor="middle">46</text>
<text x="299.5" y="680" font-size="5.6" font-weight="bold" fill="#e8e8e8" transform="rotate(-90 299.5 680)" text-anchor="middle">RUN</text>
<text x="316.5" y="671" font-size="5.6" font-weight="bold" fill="#e8e8e8" transform="rotate(-90 316.5 671)" text-anchor="middle">42</text>
<text x="333" y="680" font-size="5.6" font-weight="bold" fill="#e8e8e8" transform="rotate(-90 333 680)" text-anchor="middle">GND</text>
<text x="349.5" y="671" font-size="5.6" font-weight="bold" fill="#e8e8e8" transform="rotate(-90 349.5 671)" text-anchor="middle">41</text>
<text x="366" y="680" font-size="5.6" font-weight="bold" fill="#e8e8e8" transform="rotate(-90 366 680)" text-anchor="middle">40</text>
<text x="383" y="671" font-size="5.6" font-weight="bold" fill="#e8e8e8" transform="rotate(-90 383 671)" text-anchor="middle">39</text>
<text x="399" y="680" font-size="5.6" font-weight="bold" fill="#e8e8e8" transform="rotate(-90 399 680)" text-anchor="middle">38</text>
<text x="416.5" y="671" font-size="5.6" font-weight="bold" fill="#e8e8e8" transform="rotate(-90 416.5 671)" text-anchor="middle">GND</text>
<text x="433" y="680" font-size="5.6" font-weight="bold" fill="#e8e8e8" transform="rotate(-90 433 680)" text-anchor="middle">36</text>
<text x="459" y="633" font-size="5.6" font-weight="bold" fill="#e8e8e8" transform="rotate(-90 459 633)" text-anchor="middle">21</text>
<text x="124" y="678" font-size="5.6" font-weight="bold" fill="#e8e8e8" transform="rotate(-90 124 678)" text-anchor="middle">VBUS</text>
<text x="146.5" y="616" font-size="5.6" font-weight="bold" fill="#e8e8e8" transform="rotate(-90 146.5 616)" text-anchor="middle">B1</text>
<text x="157" y="638" font-size="5.6" font-weight="bold" fill="#e8e8e8" transform="rotate(-90 157 638)" text-anchor="middle">GND</text>
<rect x="132" y="497.5" width="30" height="24" rx="1.5" fill="#1a1a1c" stroke="#9a9a98" stroke-width="1.1"/>
<rect x="133.5" y="499" width="27" height="13" fill="#3a3a46"/>
<rect x="137" y="504" width="6" height="2" fill="#9a9a9a"/><rect x="151" y="504" width="6" height="2" fill="#9a9a9a"/>
<rect x="141.5" y="489.5" width="13.5" height="7" fill="#ddd6cc"/>
<rect x="130.5" y="660.5" width="32.5" height="27" rx="1.5" fill="#1a1a1a" stroke="#8a8a8a" stroke-width="1"/>
<rect x="132.5" y="666" width="29.3" height="19.5" fill="#5c5c60"/>
<rect x="140.75" y="685.5" width="12.75" height="6" fill="#e0d8d0"/>
<circle cx="180.5" cy="507.8" r="12.2" fill="#57534a"/>
<circle cx="180.5" cy="507.8" r="10.6" fill="url(#hole)"/>
<circle cx="180.5" cy="507.8" r="4" fill="#94601e"/>
<circle cx="179.5" cy="506.8" r="2" fill="#b07830"/>
<circle cx="449.9" cy="509" r="12.2" fill="#57534a"/>
<circle cx="449.9" cy="509" r="10.6" fill="url(#hole)"/>
<circle cx="449.9" cy="509" r="4" fill="#94601e"/>
<circle cx="448.9" cy="508" r="2" fill="#b07830"/>
<circle cx="180.5" cy="675" r="12.2" fill="#57534a"/>
<circle cx="180.5" cy="675" r="10.6" fill="url(#hole)"/>
<circle cx="180.5" cy="675" r="4" fill="#94601e"/>
<circle cx="179.5" cy="674" r="2" fill="#b07830"/>
<circle cx="449.9" cy="674.2" r="12.2" fill="#57534a"/>
<circle cx="449.9" cy="674.2" r="10.6" fill="url(#hole)"/>
<circle cx="449.9" cy="674.2" r="4" fill="#94601e"/>
<circle cx="448.9" cy="673.2" r="2" fill="#b07830"/>
<rect x="155" y="569" width="7" height="44" fill="#2a2a2a"/>
<rect x="155.5" y="571" width="6" height="1.2" fill="#8a8a8a"/>
<rect x="155.5" y="574" width="6" height="1.2" fill="#8a8a8a"/>
<rect x="155.5" y="577" width="6" height="1.2" fill="#8a8a8a"/>
<rect x="155.5" y="580" width="6" height="1.2" fill="#8a8a8a"/>
<rect x="155.5" y="583" width="6" height="1.2" fill="#8a8a8a"/>
<rect x="155.5" y="586" width="6" height="1.2" fill="#8a8a8a"/>
<rect x="155.5" y="589" width="6" height="1.2" fill="#8a8a8a"/>
<rect x="155.5" y="592" width="6" height="1.2" fill="#8a8a8a"/>
<rect x="155.5" y="595" width="6" height="1.2" fill="#8a8a8a"/>
<rect x="155.5" y="598" width="6" height="1.2" fill="#8a8a8a"/>
<rect x="155.5" y="601" width="6" height="1.2" fill="#8a8a8a"/>
<rect x="155.5" y="604" width="6" height="1.2" fill="#8a8a8a"/>
<rect x="155.5" y="607" width="6" height="1.2" fill="#8a8a8a"/>
<rect x="155.5" y="610" width="6" height="1.2" fill="#8a8a8a"/>
<circle cx="162" cy="567" r="3" fill="#2a2420"/><circle cx="162" cy="616.5" r="3" fill="#2a2420"/>
<path d="M110.5,563.3 L155,563.3 L155,619.5 L110.5,619.5 Q107.5,619.5 107.5,616.5 L107.5,566.3 Q107.5,563.3 110.5,563.3 Z" fill="#d7c4b8"/>
<rect x="108" y="563.3" width="47" height="4" fill="#efe9e4"/>
<rect x="108" y="613.5" width="47" height="6" fill="#f3efeb"/>
<rect x="148.25" y="573.75" width="6.75" height="9.75" fill="#1c1c1c"/>
<rect x="148.25" y="598.5" width="6.75" height="9.75" fill="#1c1c1c"/>
<rect x="139" y="588" width="4.5" height="4.5" fill="#f4eee8"/>
<rect x="235" y="576" width="28.5" height="31" fill="#ece6dc"/>
<rect x="237" y="564.5" width="22" height="12" fill="#e8e0d4"/>
<rect x="240" y="569" width="16" height="6" fill="#c4b8a8"/>
<rect x="237" y="606" width="22" height="13" fill="#e8e0d4"/>
<rect x="240" y="607.5" width="16" height="5" fill="#c4b8a8"/>
<rect x="254" y="580" width="9" height="10" fill="#b8a894"/>
<rect x="254" y="593" width="9" height="10" fill="#b8a894"/>
<rect x="265.5" y="572" width="1.6" height="38" fill="#9a9a9a"/>
<rect x="228" y="577" width="4" height="6" fill="#bbb"/><rect x="228" y="586" width="4" height="6" fill="#999"/><rect x="227" y="602" width="5" height="5" fill="#ddd" transform="rotate(45 229.5 604.5)"/>
<circle cx="272.5" cy="582" r="2.8" fill="#cfcfcf"/>
<text x="0" y="0" font-size="20" font-weight="bold" fill="#f2f2f2" transform="translate(288.50,606.00) rotate(-90) scale(1.0000,1.1071)">W</text>
<path d="M281,587 L286,581 L291.5,583 L289,586 L285,585.5 L283,589 Z" fill="#f2f2f2"/>
<text x="0" y="0" font-size="6.4" font-weight="bold" fill="#e6e6e6" transform="translate(299.6,637.2) rotate(-90) scale(1.0,1.0)" textLength="90" lengthAdjust="spacingAndGlyphs">ESP32-S3-Touch-LCD-1.9</text>
<rect x="171" y="566" width="20.5" height="18.5" fill="#b8b4ac"/>
<rect x="172.5" y="567.5" width="17.5" height="15.5" fill="#7c6c62"/>
<rect x="170" y="584.5" width="21.75" height="22.5" fill="#262626"/>
<rect x="170" y="584.5" width="21.75" height="3" fill="#777"/>
<rect x="204.5" y="569" width="15.75" height="13.75" fill="#1c1c1c" stroke="#5a5a5a" stroke-width="0.8"/>
<rect x="193.5" y="589" width="9.5" height="15.5" rx="2" fill="#8a8a8a" stroke="#cfcfcf" stroke-width="1"/>
<rect x="195.5" y="593" width="5.5" height="7" fill="#c9c0b4"/>
<rect x="208" y="590" width="2" height="3" fill="#bbb"/>
<rect x="213" y="590" width="2" height="3" fill="#bbb"/>
<rect x="208" y="601" width="2" height="3" fill="#bbb"/>
<rect x="213" y="601" width="2" height="3" fill="#bbb"/>
<rect x="208" y="595.5" width="2" height="3" fill="#bbb"/>
<rect x="181" y="546" width="16" height="10" fill="#1c1c1c" stroke="#777" stroke-width="0.8"/>
<rect x="200" y="553" width="16" height="10" fill="#1c1c1c" stroke="#777" stroke-width="0.8"/>
<rect x="221" y="556" width="20" height="7" fill="#1c1c1c" stroke="#999" stroke-width="0.8"/>
<rect x="253" y="546" width="23.5" height="11" fill="#1c1c1c" stroke="#bbb" stroke-width="0.9"/>
<rect x="256" y="548.5" width="2.5" height="6" fill="#cfc8bc"/>
<rect x="261" y="548.5" width="2.5" height="6" fill="#cfc8bc"/>
<rect x="266" y="548.5" width="2.5" height="6" fill="#cfc8bc"/>
<rect x="271" y="548.5" width="2.5" height="6" fill="#cfc8bc"/>
<rect x="123.5" y="629.25" width="18" height="10.5" fill="#1c1c1c" stroke="#bbb" stroke-width="0.9"/>
<rect x="188.75" y="624" width="19.5" height="12" fill="#1c1c1c" stroke="#cfcfcf" stroke-width="1"/>
<rect x="193" y="628" width="11" height="4" fill="#555"/>
<rect x="196" y="611" width="38" height="9" fill="#1c1c1c" stroke="#aaa" stroke-width="0.9"/>
<rect x="200" y="613" width="3" height="5" fill="#cfc8bc"/>
<rect x="207" y="613" width="3" height="5" fill="#cfc8bc"/>
<rect x="214" y="613" width="3" height="5" fill="#cfc8bc"/>
<rect x="221" y="613" width="3" height="5" fill="#cfc8bc"/>
<rect x="228" y="613" width="3" height="5" fill="#cfc8bc"/>
<rect x="208" y="622" width="18" height="10" fill="#1c1c1c" stroke="#aaa" stroke-width="0.9"/>
<rect x="302" y="575" width="33" height="33" fill="#292929"/>
<rect x="305.4" y="561" width="3.2" height="14" rx="1" fill="#d4d4d4"/>
<rect x="305.4" y="608" width="3.2" height="14" rx="1" fill="#d4d4d4"/>
<rect x="313.4" y="561" width="3.2" height="14" rx="1" fill="#d4d4d4"/>
<rect x="313.4" y="608" width="3.2" height="14" rx="1" fill="#d4d4d4"/>
<rect x="321.4" y="561" width="3.2" height="14" rx="1" fill="#d4d4d4"/>
<rect x="321.4" y="608" width="3.2" height="14" rx="1" fill="#d4d4d4"/>
<rect x="329.4" y="561" width="3.2" height="14" rx="1" fill="#d4d4d4"/>
<rect x="329.4" y="608" width="3.2" height="14" rx="1" fill="#d4d4d4"/>
<rect x="306" y="585" width="24" height="2" fill="#3a3a3a"/><rect x="306" y="590" width="24" height="2" fill="#3a3a3a"/><rect x="306" y="595" width="24" height="2" fill="#3a3a3a"/>
<rect x="342.5" y="566.6" width="49" height="49" rx="1" fill="#121212" stroke="#b0b0b0" stroke-width="1.1" stroke-dasharray="1.3,1"/>
<rect x="345" y="569" width="44" height="44" fill="#2d2d2d"/>
<rect x="350" y="575" width="33" height="2" fill="#3e3e3e"/><rect x="350" y="580" width="33" height="2" fill="#3e3e3e"/><rect x="350" y="585" width="28" height="2" fill="#3e3e3e"/><rect x="350" y="590" width="26" height="2" fill="#3e3e3e"/>
<circle cx="366" cy="602" r="6.5" fill="#4c4c4c"/>
<rect x="394" y="623" width="3" height="3" fill="#ddd"/>
<path d="M405,560 L428,560 L433,565 L433,590 L405,590 Z" fill="#121212" stroke="#e0e0e0" stroke-width="1.6"/>
<rect x="408.5" y="566" width="20" height="18" fill="#2a2a2a"/>
<circle cx="418.5" cy="575" r="7.5" fill="#e2d0b8"/>
<circle cx="418.5" cy="575" r="3.5" fill="#c09878"/>
<rect x="415" y="585" width="7" height="5" fill="#e0e0e0"/>
<rect x="447.7" y="567" width="13.8" height="47" rx="2" fill="#e6e0e0"/>
<rect x="447.7" y="575" width="13.8" height="24.5" fill="#c42828"/>
<rect x="452" y="582" width="5" height="9" fill="#e8a0a0"/>
<rect x="448.4" y="618.5" width="12.2" height="2" fill="#bbbbbb"/>
<rect x="354" y="620" width="26" height="22" fill="#1e1e1e" stroke="#666" stroke-width="0.8"/>
<rect x="361.4" y="623.6" width="10" height="13.8" fill="#b0a496"/>
<rect x="355.5" y="622" width="4" height="5" fill="#999"/><rect x="374" y="622" width="4" height="5" fill="#999"/><rect x="355.5" y="635" width="4" height="5" fill="#999"/><rect x="374" y="635" width="4" height="5" fill="#999"/>
<rect x="395.75" y="604.6" width="30.5" height="10.6" rx="1" fill="#1a1a1a" stroke="#b8b8b8" stroke-width="0.9"/>
<rect x="397.75" y="607.1" width="3.80" height="5.6" fill="#9a9a9a"/>
<rect x="403.05" y="607.1" width="3.80" height="5.6" fill="#9a9a9a"/>
<rect x="408.35" y="607.1" width="3.80" height="5.6" fill="#9a9a9a"/>
<rect x="413.65" y="607.1" width="3.80" height="5.6" fill="#9a9a9a"/>
<rect x="418.95" y="607.1" width="3.80" height="5.6" fill="#9a9a9a"/>
<rect x="396.5" y="621.3" width="13.8" height="10.7" rx="1" fill="#1a1a1a" stroke="#b8b8b8" stroke-width="0.9"/>
<rect x="398.50" y="623.8" width="3.40" height="5.699999999999999" fill="#9a9a9a"/>
<rect x="403.40" y="623.8" width="3.40" height="5.699999999999999" fill="#9a9a9a"/>
<rect x="320.75" y="626.25" width="23.25" height="10.5" rx="1" fill="#1a1a1a" stroke="#b8b8b8" stroke-width="0.9"/>
<rect x="322.75" y="628.75" width="4.92" height="5.5" fill="#9a9a9a"/>
<rect x="329.17" y="628.75" width="4.92" height="5.5" fill="#9a9a9a"/>
<rect x="335.58" y="628.75" width="4.92" height="5.5" fill="#9a9a9a"/>
<rect x="265" y="629" width="18" height="8" rx="1" fill="#1a1a1a" stroke="#b8b8b8" stroke-width="0.9"/>
<rect x="267.00" y="631.5" width="3.17" height="3" fill="#9a9a9a"/>
<rect x="271.67" y="631.5" width="3.17" height="3" fill="#9a9a9a"/>
<rect x="276.33" y="631.5" width="3.17" height="3" fill="#9a9a9a"/>
<rect x="318" y="545" width="16" height="10" rx="1" fill="#1a1a1a" stroke="#b8b8b8" stroke-width="0.9"/>
<rect x="320.00" y="547.5" width="4.50" height="5" fill="#9a9a9a"/>
<rect x="326.00" y="547.5" width="4.50" height="5" fill="#9a9a9a"/>
<rect x="352" y="545" width="18" height="10" rx="1" fill="#1a1a1a" stroke="#b8b8b8" stroke-width="0.9"/>
<rect x="354.00" y="547.5" width="3.17" height="5" fill="#9a9a9a"/>
<rect x="358.67" y="547.5" width="3.17" height="5" fill="#9a9a9a"/>
<rect x="363.33" y="547.5" width="3.17" height="5" fill="#9a9a9a"/>
<rect x="399" y="556" width="10" height="12" rx="1" fill="#1a1a1a" stroke="#b8b8b8" stroke-width="0.9"/>
<rect x="401.00" y="558.5" width="1.50" height="7" fill="#9a9a9a"/>
<rect x="404.00" y="558.5" width="1.50" height="7" fill="#9a9a9a"/>
<rect x="436" y="604" width="8" height="8" rx="1" fill="#1a1a1a" stroke="#b8b8b8" stroke-width="0.9"/>
<rect x="438.00" y="606.5" width="0.50" height="3" fill="#9a9a9a"/>
<rect x="440.00" y="606.5" width="0.50" height="3" fill="#9a9a9a"/>
<rect x="270" y="560" width="8" height="7" rx="1" fill="#1a1a1a" stroke="#b8b8b8" stroke-width="0.9"/>
<rect x="272.00" y="562.5" width="0.50" height="2" fill="#9a9a9a"/>
<rect x="274.00" y="562.5" width="0.50" height="2" fill="#9a9a9a"/>
<rect x="284" y="557" width="8" height="8" rx="1" fill="#1a1a1a" stroke="#b8b8b8" stroke-width="0.9"/>
<rect x="286.00" y="559.5" width="0.50" height="3" fill="#9a9a9a"/>
<rect x="288.00" y="559.5" width="0.50" height="3" fill="#9a9a9a"/>
<line x1="147" y1="489" x2="147" y2="517" stroke="#9a9a9a" stroke-width="0.9" opacity="0.8"/>
<line x1="130" y1="489" x2="130" y2="498" stroke="#9a9a9a" stroke-width="0.9" opacity="0.6"/>
</svg>
</body></html>
